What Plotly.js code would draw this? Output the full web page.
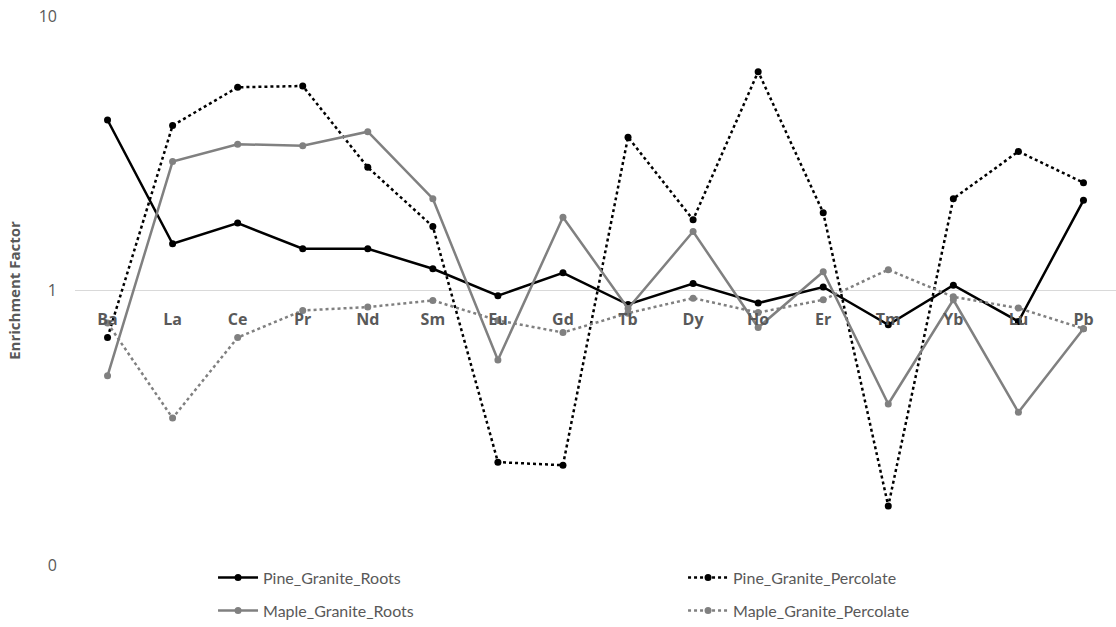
<!DOCTYPE html>
<html><head><meta charset="utf-8">
<script src="https://cdn.plot.ly/plotly-3.0.1.min.js"></script>
<style>html,body{margin:0;padding:0;background:#fff}#chart{width:1116px;height:627px}</style>
</head><body><div id="chart"></div>
<script>
const elements = ["Ba","La","Ce","Pr","Nd","Sm","Eu","Gd","Tb","Dy","Ho","Er","Tm","Yb","Lu","Pb"];
const pineRoots = [4.18,1.48,1.76,1.42,1.42,1.20,0.957,1.16,0.889,1.06,0.90,1.03,0.75,1.046,0.771,2.13];
const pinePercolate = [0.674,3.99,5.50,5.56,2.81,1.71,0.237,0.231,3.62,1.81,6.27,1.92,0.164,2.16,3.21,2.47];
const mapleRoots = [0.489,2.95,3.41,3.37,3.79,2.16,0.558,1.85,0.86,1.64,0.733,1.17,0.386,0.925,0.36,0.726];
const maplePercolate = [0.761,0.343,0.674,0.846,0.870,0.920,0.778,0.703,0.827,0.938,0.831,0.925,1.19,0.948,0.863,0.726];
const yTickVals = [0.1,1,10];
const yTickText = ["0","1","10"];

const black = "#000000", gray = "#808080";
function tr(name, y, color, dash, leg){
  return {type:"scatter", mode:"lines+markers", name:name, x:elements, y:y, legend:leg,
    line:{color:color, width:2.5, dash:dash},
    marker:{color:color, size:7, symbol:"circle"}};
}
const data = [
  tr("Pine_Granite_Roots", pineRoots, black, "solid", "legend"),
  tr("Pine_Granite_Percolate", pinePercolate, black, "dot", "legend2"),
  tr("Maple_Granite_Roots", mapleRoots, gray, "solid", "legend3"),
  tr("Maple_Granite_Percolate", maplePercolate, gray, "dot", "legend4")
];
const legFont = {family:"Lato", size:16, color:"#595959"};
function leg(x, y){
  return {x:x, xanchor:"left", y:y, yanchor:"middle", itemwidth:40, font:legFont,
    bgcolor:"rgba(0,0,0,0)", borderwidth:0};
}
const layout = {
  width:1116, height:627,
  margin:{l:75, r:0, t:16, b:62, autoexpand:false},
  paper_bgcolor:"#fff", plot_bgcolor:"#fff",
  showlegend:true,
  xaxis:{type:"category", range:[-0.5,15.5], anchor:"free", position:0.5,
    showline:false, showgrid:false, zeroline:false, ticks:"",
    ticklabelstandoff:17,
    tickfont:{family:"Open Sans", size:16, color:"#595959", weight:"bold"}},
  yaxis:{type:"log", range:[-1,1], tickvals:yTickVals, ticktext:yTickText,
    showgrid:true, gridcolor:"#d9d9d9", gridwidth:1, zeroline:false, showline:false, ticks:"",
    ticklabelstandoff:17,
    tickfont:{family:"Open Sans", size:16, color:"#595959"},
    title:{text:"Enrichment Factor", standoff:14, font:{family:"Open Sans", size:15, color:"#595959", weight:"bold"}}},
  legend: leg(0.1326, -0.0231),
  legend2: leg(0.5841, -0.0231),
  legend3: leg(0.1326, -0.0832),
  legend4: leg(0.5841, -0.0832)
};
Plotly.newPlot("chart", data, layout, {displayModeBar:false, staticPlot:true});
</script></body></html>
